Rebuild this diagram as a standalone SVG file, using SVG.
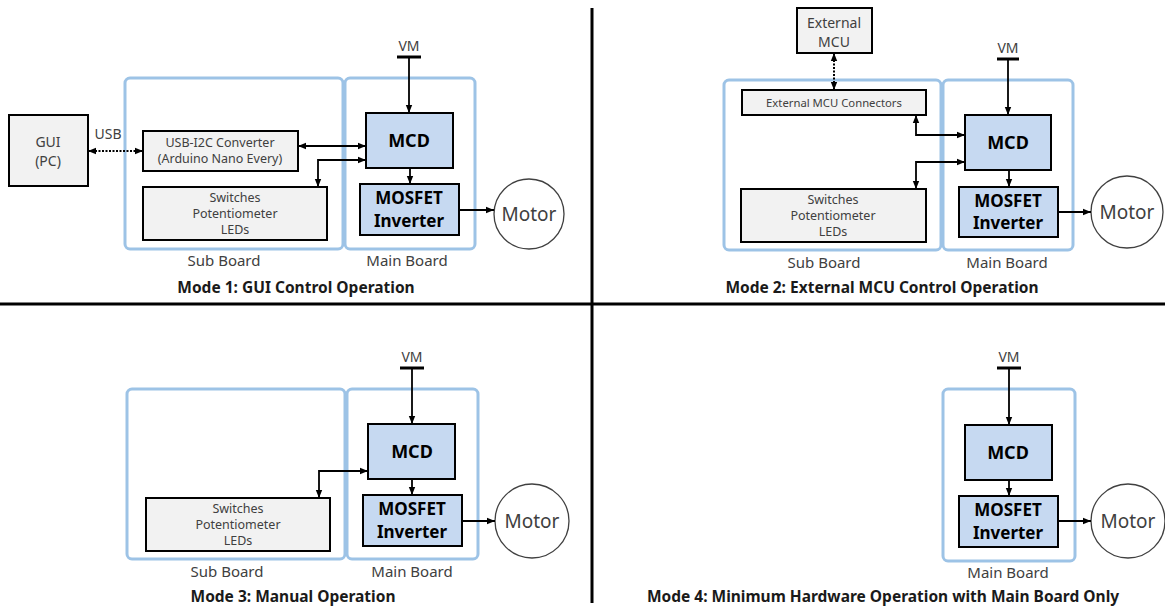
<svg xmlns="http://www.w3.org/2000/svg" width="1165" height="607" viewBox="0 0 1165 607">
<style>
text{font-family:"Noto Sans","Open Sans","Liberation Sans",sans-serif;text-anchor:middle;fill:#404040}
.board{fill:none;stroke:#9dc3e6;stroke-width:3}
.gray{fill:#f2f2f2;stroke:#000;stroke-width:2}
.blue{fill:#c6d9f1;stroke:#000;stroke-width:2}
.motor{fill:#fff;stroke:#404040;stroke-width:1.3}
.wire{fill:none;stroke:#000;stroke-width:1.8}
.dot{fill:none;stroke:#000;stroke-width:2;stroke-dasharray:2 1.5}
.bar{stroke:#000;stroke-width:3}
.div{stroke:#000;stroke-width:3}
.t13{font-size:14px}
.t12{font-size:12.5px}
.t11{font-size:11.3px}
.lbl{font-size:15px}
.b{font-weight:bold;fill:#000}
.mcd{font-size:18px}
.mos{font-size:17px}
.mot{font-size:19px}
.title{font-size:15.5px;font-weight:bold;fill:#1a1a1a}
</style>
<defs>
<marker id="ah" viewBox="0 0 10 10" refX="10" refY="5" markerWidth="8" markerHeight="8" markerUnits="userSpaceOnUse" orient="auto-start-reverse"><path d="M0,1 L10,5 L0,9 z" fill="#000"/></marker>
</defs>
<rect width="1165" height="607" fill="#fff"/>
<g id="dividers">
<line class="div" x1="592" y1="8" x2="592" y2="603"/>
<line class="div" x1="0" y1="304" x2="1165" y2="304"/>
</g>

<!-- Mode 1 -->
<g id="m1-subboard"><rect class="board" x="125" y="78" width="218" height="171" rx="5"/><text class="lbl" x="224" y="266">Sub Board</text></g>
<g id="m1-mainboard"><rect class="board" x="345" y="78" width="130" height="171" rx="5"/><text class="lbl" x="407" y="266">Main Board</text></g>
<g id="m1-gui"><rect class="gray" x="9" y="115" width="79" height="71"/><text class="t13" x="48" y="147">GUI</text><text class="t13" x="48" y="166">(PC)</text></g>
<g id="m1-usb"><rect class="gray" x="143" y="131" width="155" height="40"/><text class="t12" x="220" y="147">USB-I2C Converter</text><text class="t12" x="220" y="163">(Arduino Nano Every)</text></g>
<g id="m1-sw"><rect class="gray" x="143" y="187" width="184" height="53"/><text class="t12" x="235" y="202">Switches</text><text class="t12" x="235" y="218">Potentiometer</text><text class="t12" x="235" y="234">LEDs</text></g>
<g id="m1-mcd"><rect class="blue" x="366" y="113" width="87" height="55"/><text class="b mcd" x="409" y="147">MCD</text></g>
<g id="m1-mos"><rect class="blue" x="360" y="184" width="99" height="51"/><text class="b mos" x="409" y="204">MOSFET</text><text class="b mos" x="409" y="227">Inverter</text></g>
<g id="m1-motor"><circle class="motor" cx="529" cy="214" r="35"/><text class="mot" x="529" y="221">Motor</text></g>
<g id="m1-vm"><text class="t13" x="409" y="51">VM</text><line class="bar" x1="397" y1="57" x2="421" y2="57"/></g>
<g id="m1-title"><text class="title" x="296" y="293">Mode 1: GUI Control Operation</text></g>
<g id="m1-usb-label"><text class="t13" x="108" y="139">USB</text></g>

<!-- Mode 2 -->
<g id="m2-subboard"><rect class="board" x="724" y="80" width="217" height="170" rx="5"/><text class="lbl" x="824" y="268">Sub Board</text></g>
<g id="m2-mainboard"><rect class="board" x="943" y="80" width="130" height="170" rx="5"/><text class="lbl" x="1007" y="268">Main Board</text></g>
<g id="m2-extmcu"><rect class="gray" x="797" y="8" width="75" height="45"/><text class="t13" x="834" y="28">External</text><text class="t13" x="834" y="47">MCU</text></g>
<g id="m2-conn"><rect class="gray" x="742" y="90" width="184" height="25"/><text class="t11" x="834" y="107">External MCU Connectors</text></g>
<g id="m2-sw"><rect class="gray" x="741" y="189" width="185" height="53"/><text class="t12" x="833" y="204">Switches</text><text class="t12" x="833" y="220">Potentiometer</text><text class="t12" x="833" y="236">LEDs</text></g>
<g id="m2-mcd"><rect class="blue" x="965" y="115" width="86" height="55"/><text class="b mcd" x="1008" y="149">MCD</text></g>
<g id="m2-mos"><rect class="blue" x="959" y="187" width="99" height="50"/><text class="b mos" x="1008" y="207">MOSFET</text><text class="b mos" x="1008" y="229">Inverter</text></g>
<g id="m2-motor"><circle class="motor" cx="1127" cy="212" r="36"/><text class="mot" x="1127" y="219">Motor</text></g>
<g id="m2-vm"><text class="t13" x="1008" y="53">VM</text><line class="bar" x1="997" y1="59" x2="1019" y2="59"/></g>
<g id="m2-title"><text class="title" x="882" y="293">Mode 2: External MCU Control Operation</text></g>

<!-- Mode 3 -->
<g id="m3-subboard"><rect class="board" x="127" y="389" width="218" height="170" rx="5"/><text class="lbl" x="227" y="577">Sub Board</text></g>
<g id="m3-mainboard"><rect class="board" x="347" y="389" width="131" height="170" rx="5"/><text class="lbl" x="412" y="577">Main Board</text></g>
<g id="m3-sw"><rect class="gray" x="146" y="498" width="184" height="53"/><text class="t12" x="238" y="513">Switches</text><text class="t12" x="238" y="529">Potentiometer</text><text class="t12" x="238" y="545">LEDs</text></g>
<g id="m3-mcd"><rect class="blue" x="368" y="424" width="87" height="55"/><text class="b mcd" x="412" y="458">MCD</text></g>
<g id="m3-mos"><rect class="blue" x="363" y="495" width="99" height="51"/><text class="b mos" x="412" y="515">MOSFET</text><text class="b mos" x="412" y="538">Inverter</text></g>
<g id="m3-motor"><circle class="motor" cx="532" cy="521" r="37"/><text class="mot" x="532" y="528">Motor</text></g>
<g id="m3-vm"><text class="t13" x="412" y="362">VM</text><line class="bar" x1="400" y1="368" x2="424" y2="368"/></g>
<g id="m3-title"><text class="title" x="293" y="602">Mode 3: Manual Operation</text></g>

<!-- Mode 4 -->
<g id="m4-mainboard"><rect class="board" x="943" y="389" width="132" height="172" rx="5"/><text class="lbl" x="1008" y="578">Main Board</text></g>
<g id="m4-mcd"><rect class="blue" x="965" y="425" width="87" height="55"/><text class="b mcd" x="1008" y="459">MCD</text></g>
<g id="m4-mos"><rect class="blue" x="959" y="496" width="99" height="51"/><text class="b mos" x="1008" y="516">MOSFET</text><text class="b mos" x="1008" y="539">Inverter</text></g>
<g id="m4-motor"><circle class="motor" cx="1128" cy="521" r="37"/><text class="mot" x="1128" y="528">Motor</text></g>
<g id="m4-vm"><text class="t13" x="1009" y="362">VM</text><line class="bar" x1="997" y1="368" x2="1021" y2="368"/></g>
<g id="m4-title"><text class="title" x="883" y="602">Mode 4: Minimum Hardware Operation with Main Board Only</text></g>

<g id="connectors">
<!-- Mode 1 -->
<line class="dot" x1="88" y1="151" x2="143" y2="151" marker-start="url(#ah)" marker-end="url(#ah)"/>
<line class="wire" x1="409" y1="57" x2="409" y2="113" marker-end="url(#ah)"/>
<line class="wire" x1="298" y1="146" x2="366" y2="146" marker-start="url(#ah)" marker-end="url(#ah)"/>
<polyline class="wire" points="318,187 318,160 366,160" marker-start="url(#ah)" marker-end="url(#ah)"/>
<line class="wire" x1="410" y1="168" x2="410" y2="184" marker-end="url(#ah)"/>
<line class="wire" x1="459" y1="210" x2="494" y2="210" marker-end="url(#ah)"/>
<!-- Mode 2 -->
<line class="dot" x1="834" y1="53" x2="834" y2="90" marker-start="url(#ah)" marker-end="url(#ah)"/>
<line class="wire" x1="1008" y1="59" x2="1008" y2="115" marker-end="url(#ah)"/>
<polyline class="wire" points="916,115 916,135 965,135" marker-start="url(#ah)" marker-end="url(#ah)"/>
<polyline class="wire" points="916,189 916,162 965,162" marker-start="url(#ah)" marker-end="url(#ah)"/>
<line class="wire" x1="1009" y1="170" x2="1009" y2="187" marker-end="url(#ah)"/>
<line class="wire" x1="1058" y1="212" x2="1091" y2="212" marker-end="url(#ah)"/>
<!-- Mode 3 -->
<line class="wire" x1="412" y1="368" x2="412" y2="424" marker-end="url(#ah)"/>
<polyline class="wire" points="319,498 319,471 368,471" marker-start="url(#ah)" marker-end="url(#ah)"/>
<line class="wire" x1="412" y1="479" x2="412" y2="495" marker-end="url(#ah)"/>
<line class="wire" x1="462" y1="521" x2="495" y2="521" marker-end="url(#ah)"/>
<!-- Mode 4 -->
<line class="wire" x1="1009" y1="368" x2="1009" y2="425" marker-end="url(#ah)"/>
<line class="wire" x1="1009" y1="480" x2="1009" y2="496" marker-end="url(#ah)"/>
<line class="wire" x1="1058" y1="521" x2="1091" y2="521" marker-end="url(#ah)"/>
</g>
</svg>
